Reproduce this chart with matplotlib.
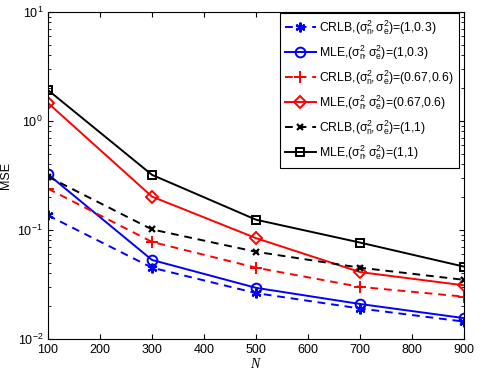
import numpy as np
import matplotlib.pyplot as plt

plt.rcParams['font.family'] = ['Liberation Sans', 'DejaVu Sans']
plt.rcParams['mathtext.fontset'] = 'custom'
plt.rcParams['mathtext.rm'] = 'Liberation Sans'
plt.rcParams['mathtext.it'] = 'Liberation Serif:italic'

N = [100, 300, 500, 700, 900]

crlb_1_03 = [0.136, 0.045, 0.0263, 0.019, 0.0144]
mle_1_03 = [0.324, 0.053, 0.0294, 0.0209, 0.0155]
crlb_067_06 = [0.239, 0.0776, 0.045, 0.030, 0.0244]
mle_067_06 = [1.46, 0.202, 0.084, 0.041, 0.031]
crlb_1_1 = [0.308, 0.101, 0.063, 0.045, 0.0348]
mle_1_1 = [1.92, 0.32, 0.124, 0.0765, 0.046]

lbl = r'$\mathrm{(\sigma_n^2\!,\sigma_e^2)}$'

fig = plt.figure(figsize=(4.84, 3.72), dpi=100)
ax = fig.add_axes([0.099, 0.089, 0.86, 0.879])

dash = (4, 3)
ax.plot(N, crlb_1_03, '--', color='b', marker=(6, 2, 0), ms=7, mew=1.6, lw=1.4, dashes=dash,
        label='CRLB,' + lbl + '=(1,0.3)')
ax.plot(N, mle_1_03, '-', color='b', marker='o', ms=7, mfc='none', mew=1.4, lw=1.4,
        label='MLE,' + lbl + '=(1,0.3)')
ax.plot(N, crlb_067_06, '--', color='r', marker='+', ms=8, mew=1.4, lw=1.4, dashes=dash,
        label='CRLB,' + lbl + '=(0.67,0.6)')
ax.plot(N, mle_067_06, '-', color='r', marker='D', ms=6, mfc='none', mew=1.4, lw=1.4,
        label='MLE,' + lbl + '=(0.67,0.6)')
ax.plot(N, crlb_1_1, '--', color='k', marker='x', ms=5, mew=1.6, lw=1.4, dashes=dash,
        label='CRLB,' + lbl + '=(1,1)')
ax.plot(N, mle_1_1, '-', color='k', marker='s', ms=6, mfc='none', mew=1.4, lw=1.4,
        label='MLE,' + lbl + '=(1,1)')

ax.set_yscale('log')
ax.set_xlim(100, 900)
ax.set_ylim(1e-2, 1e1)
ax.set_xticks(range(100, 1000, 100))
ax.tick_params(which='both', direction='in', top=True, right=True, labelsize=9)
ax.set_xlabel(r'$N$', fontsize=10, labelpad=1)
ax.set_ylabel('MSE', fontsize=9)

leg = ax.legend(loc='upper right', bbox_to_anchor=(0.988, 0.998), fontsize=8.8,
                fancybox=False, framealpha=1, edgecolor='k', handlelength=2.5,
                labelspacing=0.52, borderaxespad=0.0, handletextpad=0.3,
                borderpad=0.45)
leg.get_frame().set_linewidth(0.8)

fig.savefig('out.png', dpi=100)
